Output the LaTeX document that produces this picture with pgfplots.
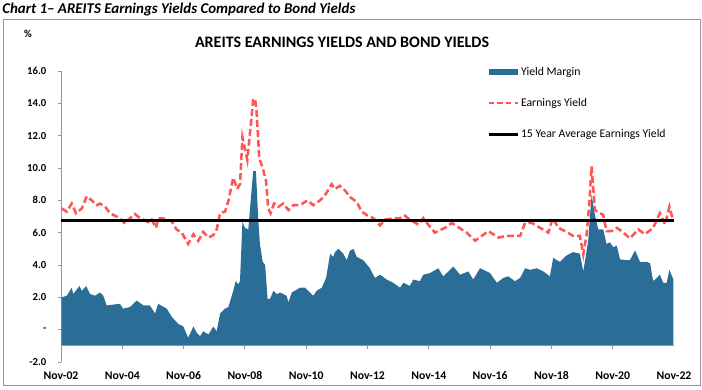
\documentclass[border=0pt]{standalone}
\usepackage{fontspec}
\setmainfont{Carlito}
\usepackage{pgfplots}
\pgfplotsset{compat=1.18}
\definecolor{areablue}{RGB}{42,110,152}
\definecolor{eyred}{RGB}{255,85,85}
\definecolor{axgray}{RGB}{150,150,150}
\begin{document}
\begin{tikzpicture}
\path[use as bounding box] (0pt,0pt) rectangle (526.5pt,-291.75pt);
\draw[axgray, line width=0.75pt] (2.25pt,-14.25pt) rectangle (525pt,-288.75pt);
\node[anchor=base west, inner sep=0pt, font=\fontsize{11.2}{13}\selectfont\bfseries\itshape] at (1.5pt,-9.75pt) {Chart 1– AREITS Earnings Yields Compared to Bond Yields};
\node[font=\fontsize{12}{14}\selectfont\bfseries, inner sep=0pt] at (256.5pt,-31.5pt) {AREITS EARNINGS YIELDS AND BOND YIELDS};
\node[font=\fontsize{8}{9}\selectfont\bfseries, inner sep=0pt] at (21pt,-25.5pt) {\%};
\begin{axis}[
  at={(45.75pt,-271.5pt)}, anchor=south west,
  scale only axis, width=459.75pt, height=218.25pt,
  xmin=0, xmax=20, ymin=-2, ymax=16,
  axis y line*=left, axis x line*=bottom,
  x axis line style={draw=none},
  y axis line style={axgray, line width=0.75pt},
  xtick={0,2,4,6,8,10,12,14,16,18,20},
  xticklabels={Nov-02,Nov-04,Nov-06,Nov-08,Nov-10,Nov-12,Nov-14,Nov-16,Nov-18,Nov-20,Nov-22},
  ytick={-2,0,2,4,6,8,10,12,14,16},
  yticklabels={-2.0,-,2.0,4.0,6.0,8.0,10.0,12.0,14.0,16.0},
  tick align=outside, major tick length=2.5pt,
  xtick style={draw=none},
  ytick style={axgray, line width=0.75pt},
  yticklabel style={font=\fontsize{8}{9}\selectfont\bfseries, xshift=-5pt},
  xticklabel style={font=\fontsize{8.8}{10}\selectfont\bfseries, yshift=-1pt},
  legend style={at={(0.695,1.022)}, anchor=north west, draw=none, fill=none,
    font=\fontsize{8.8}{10}\selectfont, row sep=12.8pt, inner sep=0pt,
    nodes={inner sep=1.5pt}},
  legend cell align=left,
]
\addplot[fill=areablue, draw=none,
  legend image code/.code={\fill[areablue] (0pt,-2pt) rectangle (22pt,2pt);}]
coordinates {
(0.02,-1) (0.02,2.0) (0.19,2.1) (0.35,2.6) (0.40,2.2) (0.60,2.7) (0.68,2.4) (0.82,2.7) (0.95,2.2)
(1.11,2.1) (1.27,2.3) (1.38,2.1) (1.49,1.5) (1.92,1.6) (2.03,1.3) (2.25,1.4) (2.47,1.8) (2.69,1.5)
(2.90,1.5) (3.07,1.0) (3.17,1.6) (3.45,1.3) (3.61,0.8) (3.83,0.35) (3.99,0.2) (4.15,-0.5) (4.32,0.2)
(4.43,-0.2) (4.54,-0.4) (4.64,-0.1) (4.81,-0.3) (4.97,0.2) (5.08,-0.1) (5.19,1.0) (5.35,1.3) (5.46,1.4)
(5.62,2.4) (5.70,3.0) (5.78,2.8) (5.84,3.0) (5.92,6.7) (6.00,6.3) (6.11,6.2) (6.27,9.8) (6.36,9.8)
(6.44,6.7) (6.49,5.3) (6.58,4.2) (6.66,4.0) (6.74,1.9) (6.82,1.9) (6.93,2.4) (7.04,2.2) (7.15,2.3)
(7.25,2.2) (7.36,2.1) (7.42,1.7) (7.53,2.3) (7.80,2.6) (7.96,2.6) (8.12,2.3) (8.23,2.1) (8.34,2.4)
(8.51,2.6) (8.65,3.2) (8.78,4.7) (8.88,4.5) (8.94,4.8) (9.05,5.0) (9.21,4.7) (9.32,4.3) (9.43,4.9)
(9.54,5.0) (9.65,4.5) (9.86,4.3) (10.08,3.8) (10.24,3.2) (10.41,3.4) (10.63,3.1) (10.84,2.9) (11.06,2.6)
(11.17,2.9) (11.28,2.8) (11.38,2.7) (11.49,3.1) (11.71,3.0) (11.82,3.4) (12.04,3.5) (12.31,3.8) (12.47,3.3)
(12.64,3.6) (12.80,3.9) (13.02,3.4) (13.29,3.6) (13.45,3.1) (13.67,3.8) (13.89,3.6) (14.00,3.5) (14.22,2.9)
(14.43,3.2) (14.59,3.3) (14.81,3.0) (14.98,3.2) (15.14,3.8) (15.30,3.7) (15.52,3.8) (15.74,3.6) (15.95,3.3)
(16.06,4.45) (16.17,4.3) (16.28,4.2) (16.50,4.6) (16.71,4.8) (16.93,4.7) (17.04,3.6) (17.10,4.3) (17.20,5.5)
(17.31,8.35) (17.42,7.1) (17.53,6.2) (17.69,6.2) (17.80,5.3) (17.91,5.4) (18.02,5.1) (18.13,5.2) (18.24,4.35)
(18.46,4.3) (18.56,4.3) (18.73,4.9) (18.89,4.2) (19.11,4.2) (19.22,4.1) (19.32,3.0) (19.44,3.2) (19.54,3.4)
(19.65,2.9) (19.76,2.9) (19.85,3.7) (19.98,3.1) (19.98,-1)
};
\addlegendentry{Yield Margin}
\addplot[eyred, line width=1.9pt, dash pattern=on 5pt off 2.5pt,
  legend image code/.code={\draw[eyred, line width=1.6pt, dash pattern=on 4pt off 2.5pt] (0pt,0pt) -- (22pt,0pt);}]
coordinates {
(0.02,7.5) (0.19,7.3) (0.35,7.8) (0.49,7.2) (0.68,7.5) (0.84,8.25) (1.00,8.0) (1.16,7.7) (1.27,7.8)
(1.44,7.6) (1.60,7.2) (1.92,6.9) (2.09,6.55) (2.20,6.8) (2.41,7.15) (2.58,6.9) (2.85,6.65) (2.96,6.8)
(3.10,6.3) (3.17,6.9) (3.45,6.85) (3.61,6.7) (3.77,6.2) (3.94,6.0) (4.15,5.3) (4.32,5.9) (4.48,5.5)
(4.64,6.05) (4.81,5.7) (4.97,5.85) (5.08,6.2) (5.19,7.2) (5.35,7.3) (5.46,7.95) (5.62,9.4) (5.75,8.7)
(5.84,9.0) (5.92,11.9) (6.08,10.5) (6.27,14.2) (6.33,14.3) (6.38,13.5) (6.47,10.6) (6.58,10.0) (6.69,9.2)
(6.76,7.5) (6.84,7.2) (6.95,7.8) (7.09,7.6) (7.25,7.8) (7.42,7.4) (7.58,7.7) (7.80,7.7) (8.04,8.0)
(8.23,7.7) (8.45,8.0) (8.61,8.3) (8.83,9.0) (8.94,8.7) (9.10,8.9) (9.27,8.6) (9.43,8.2) (9.65,7.9)
(9.81,7.3) (9.97,7.1) (10.19,6.9) (10.41,6.45) (10.57,6.8) (10.84,6.9) (11.06,6.9) (11.22,7.05) (11.38,6.8)
(11.66,6.5) (11.82,6.9) (11.98,6.5) (12.20,6.0) (12.53,6.3) (12.75,6.6) (12.91,6.4) (13.24,6.0) (13.51,5.5)
(13.73,5.8) (13.94,6.1) (14.27,5.7) (14.54,5.8) (14.98,5.8) (15.14,6.6) (15.36,6.6) (15.63,6.3) (15.90,6.0)
(16.04,6.9) (16.23,6.3) (16.44,6.1) (16.71,5.8) (16.93,5.8) (17.04,4.65) (17.15,5.9) (17.24,7.9) (17.31,10.1)
(17.42,7.4) (17.59,7.2) (17.69,7.1) (17.80,6.1) (17.97,6.1) (18.13,6.3) (18.29,6.1) (18.56,5.65) (18.84,6.2)
(19.05,5.9) (19.32,6.3) (19.54,7.2) (19.71,6.5) (19.85,7.6) (19.98,6.7)
};
\addlegendentry{Earnings Yield}
\addplot[black, line width=2.3pt,
  legend image code/.code={\draw[black, line width=1.8pt] (0pt,0pt) -- (22pt,0pt);}]
coordinates {(0,6.75) (20,6.75)};
\addlegendentry{15 Year Average Earnings Yield}
\draw[axgray, line width=0.75pt] (axis cs:0,-1) -- (axis cs:20,-1);
\pgfplotsinvokeforeach{0,2,4,6,8,10,12,14,16,18,20}{
  \draw[axgray, line width=0.75pt] (axis cs:#1,-1) -- ++(0pt,-2.5pt);
}
\end{axis}
\end{tikzpicture}
\end{document}
